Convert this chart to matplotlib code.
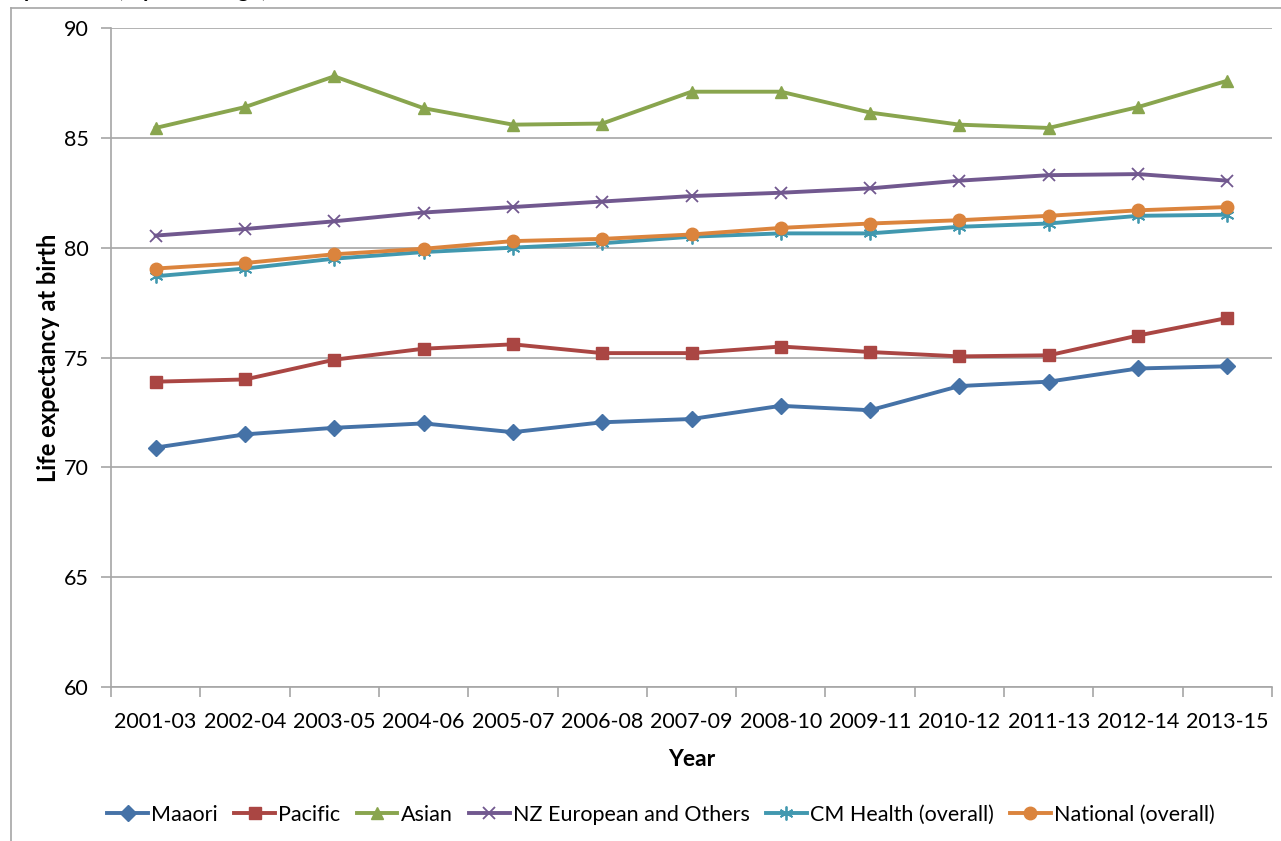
import matplotlib
matplotlib.use("Agg")
import matplotlib.pyplot as plt
from matplotlib.lines import Line2D

plt.rcParams['font.family'] = ['Lato', 'DejaVu Sans']

years = ["2001-03", "2002-04", "2003-05", "2004-06", "2005-07", "2006-08", "2007-09",
         "2008-10", "2009-11", "2010-12", "2011-13", "2012-14", "2013-15"]
maaori = [70.9, 71.5, 71.8, 72.0, 71.6, 72.05, 72.2, 72.8, 72.6, 73.7, 73.9, 74.5, 74.6]
pacific = [73.9, 74.0, 74.9, 75.4, 75.6, 75.2, 75.2, 75.5, 75.25, 75.05, 75.1, 76.0, 76.8]
asian = [85.45, 86.4, 87.8, 86.35, 85.6, 85.65, 87.1, 87.1, 86.15, 85.6, 85.45, 86.4, 87.6]
nz_euro = [80.55, 80.85, 81.2, 81.6, 81.85, 82.1, 82.35, 82.5, 82.7, 83.05, 83.3, 83.35, 83.05]
cm_health = [78.7, 79.05, 79.5, 79.8, 80.0, 80.2, 80.5, 80.65, 80.65, 80.95, 81.1, 81.45, 81.5]
national = [79.05, 79.3, 79.7, 79.95, 80.3, 80.4, 80.6, 80.9, 81.1, 81.25, 81.45, 81.7, 81.85]

series = [
    ("Maaori", maaori, "#4572A7", "D", 8.5),
    ("Pacific", pacific, "#AA4643", "s", 8),
    ("Asian", asian, "#89A54E", "^", 9),
    ("NZ European and Others", nz_euro, "#71588F", "x", 9),
    ("CM Health (overall)", cm_health, "#4198AF", (6, 2, 0), 10),
    ("National (overall)", national, "#DB843D", "o", 9),
]

W, H = 1281, 841
fig = plt.figure(figsize=(W / 100, H / 100), dpi=100)
ax = fig.add_axes([111 / W, 1 - 687 / H, (1272 - 111) / W, (687 - 28) / H])

x = list(range(len(years)))
handles = []
for name, vals, col, mk, ms in series:
    mew = 1.3 if mk in ("x", (6, 2, 0)) else 1
    ln, = ax.plot(x, vals, color=col, lw=2.8, marker=mk, markersize=ms,
                  markerfacecolor=col, markeredgecolor=col, markeredgewidth=mew,
                  label=name, zorder=3)
    handles.append(ln)

ax.set_xlim(-0.5, len(years) - 0.5)
ax.set_ylim(60, 90)
ax.set_yticks([60, 65, 70, 75, 80, 85, 90])
ax.set_xticks(x)
ax.set_xticklabels(years)
ax.set_xticks([i - 0.5 for i in range(len(years) + 1)], minor=True)

grid_col = "#A6A6A6"
ax.grid(axis='y', color=grid_col, lw=1.2, zorder=0)
ax.set_axisbelow(True)
for s in ("top", "right"):
    ax.spines[s].set_visible(False)
for s in ("left", "bottom"):
    ax.spines[s].set_color(grid_col)
    ax.spines[s].set_linewidth(1.2)

ax.tick_params(axis='x', which='major', length=0, pad=18, labelsize=15.5, colors='black')
ax.tick_params(axis='x', which='minor', length=7, width=1.2, color=grid_col, direction='out')
ax.tick_params(axis='y', length=7, width=1.2, color=grid_col, pad=9, labelsize=15.5,
               labelcolor='black')

ax.set_xlabel("Year", fontsize=16.5, fontweight='bold', labelpad=12)
ax.set_ylabel("Life expectancy at birth", fontsize=17, fontweight='bold', labelpad=3)

fig.legend(handles=handles, loc='center', bbox_to_anchor=(661 / W, 1 - 815 / H),
           ncol=6, frameon=False, fontsize=15.5, handlelength=1.9,
           handletextpad=0.15, columnspacing=0.75)

# chart outer border (partially visible)
fig.add_artist(Line2D([10.5 / W, 10.5 / W], [0, 1 - 8 / H], color=grid_col, lw=1.2,
                      transform=fig.transFigure))
fig.add_artist(Line2D([10.5 / W, 1], [1 - 8 / H, 1 - 8 / H], color=grid_col, lw=1.2,
                      transform=fig.transFigure))

# title above the chart, cut off at the top edge as in the reference
fig.text(268 / W, 1 + 2.5 / H, "Life expectancy at birth (0 years of age)", ha='right',
         va='baseline', fontsize=16, fontweight='bold')

fig.savefig("out.png", dpi=100)
